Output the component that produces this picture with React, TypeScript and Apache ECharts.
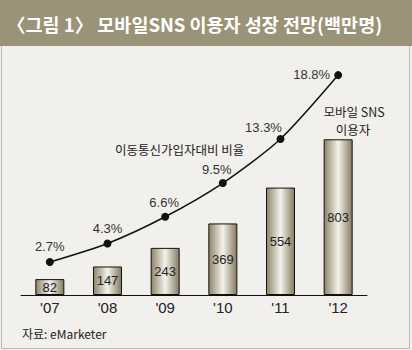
import React, { useEffect, useRef } from "react";
import * as echarts from "echarts";

const categories = ["'07", "'08", "'09", "'10", "'11", "'12"];
const users = [82, 147, 243, 369, 554, 803];
const ratio = [2.7, 4.3, 6.6, 9.5, 13.3, 18.8];
const titleText = "〈그림 1〉 모바일SNS 이용자 성장 전망(백만명)";
const lineName = "이동통신가입자대비 비율";
const barNameLines = ["모바일 SNS", "이용자"];
const sourceText = "자료: eMarketer";

const ratioLabelOffsets: any[] = [
  { offset: [0, 0] },
  { offset: [0, 1] },
  { offset: [-1, 1] },
  { offset: [-6, 2] },
  { offset: [-17, 4] },
  { position: "left", distance: 4, offset: [0, -1] },
];

const FONT = "'Liberation Sans', 'Noto Sans CJK KR', sans-serif";
const KFONT = "'Noto Sans CJK KR', 'Liberation Sans', sans-serif";

export default function App() {
  const ref = useRef<HTMLDivElement>(null);
  useEffect(() => {
    if (!ref.current) return;
    const chart = echarts.init(ref.current, undefined, { renderer: "svg" });
    const barGradient = new echarts.graphic.LinearGradient(0, 0, 1, 0, [
      { offset: 0, color: "#8d8469" },
      { offset: 0.5, color: "#f4f2ea" },
      { offset: 1, color: "#847b60" },
    ]);
    chart.setOption({
      animation: false,
      backgroundColor: "#f1f0ec",
      grid: { left: 21, right: 45, top: 60, bottom: 55 },
      xAxis: {
        type: "category",
        data: categories,
        axisLine: { lineStyle: { color: "#111", width: 1 } },
        axisTick: { show: false },
        axisLabel: { fontSize: 15, color: "#222", margin: 5, fontFamily: FONT },
      },
      yAxis: [
        { type: "value", min: 0, max: 1212, show: false, splitLine: { show: false } },
        { type: "value", min: -0.14, max: 20.1, show: false, splitLine: { show: false } },
      ],
      series: [
        {
          type: "bar",
          yAxisIndex: 0,
          data: users,
          barWidth: 29,
          itemStyle: { color: barGradient, borderColor: "#111", borderWidth: 1 },
          label: {
            show: true,
            position: "inside",
            fontSize: 13,
            color: "#222",
            fontFamily: FONT,
          },
        },
        {
          type: "line",
          yAxisIndex: 1,
          data: ratio.map((v, i) => ({ value: v, label: ratioLabelOffsets[i] })),
          smooth: 0.25,
          clip: false,
          symbol: "circle",
          symbolSize: 8,
          itemStyle: { color: "#111" },
          lineStyle: { color: "#111", width: 1.5 },
          label: {
            show: true,
            position: "top",
            formatter: "{c}%",
            fontSize: 13,
            color: "#333",
            fontFamily: FONT,
          },
        },
      ],
      graphic: [
        {
          type: "rect",
          shape: { x: 1.5, y: 0.5, width: 408, height: 348 },
          style: { fill: "none", stroke: "#bdbab0", lineWidth: 1 },
          z: 1,
        },
        {
          type: "rect",
          shape: { x: 0, y: 0, width: 412, height: 46 },
          style: { fill: "#9b9377" },
          z: 2,
        },
        {
          type: "text",
          x: 7,
          y: 24,
          style: {
            text: titleText,
            fill: "#ffffff",
            fontSize: 18.5,
            fontWeight: "bold",
            fontFamily: KFONT,
            verticalAlign: "middle",
            textAlign: "left",
          },
          z: 3,
        },
        {
          type: "text",
          x: 115,
          y: 149,
          style: {
            text: lineName,
            fill: "#222",
            fontSize: 12.5,
            fontFamily: KFONT,
            verticalAlign: "middle",
          },
          z: 3,
        },
        {
          type: "text",
          x: 354,
          y: 111.5,
          style: {
            text: barNameLines[0],
            fill: "#222",
            fontSize: 12.5,
            lineHeight: 14,
            fontFamily: KFONT,
            verticalAlign: "middle",
            textAlign: "center",
          },
          z: 3,
        },
        {
          type: "text",
          x: 353,
          y: 129,
          style: {
            text: barNameLines[1],
            fill: "#222",
            fontSize: 12.5,
            lineHeight: 14,
            fontFamily: KFONT,
            verticalAlign: "middle",
            textAlign: "center",
          },
          z: 3,
        },
        {
          type: "text",
          x: 22,
          y: 333,
          style: {
            text: sourceText,
            fill: "#222",
            fontSize: 12,
            fontFamily: KFONT,
            verticalAlign: "middle",
          },
          z: 3,
        },
      ],
    });
    return () => chart.dispose();
  }, []);
  return (
    <div
      ref={ref}
      style={{ position: "fixed", left: 0, top: 0, width: 412, height: 350 }}
    />
  );
}
